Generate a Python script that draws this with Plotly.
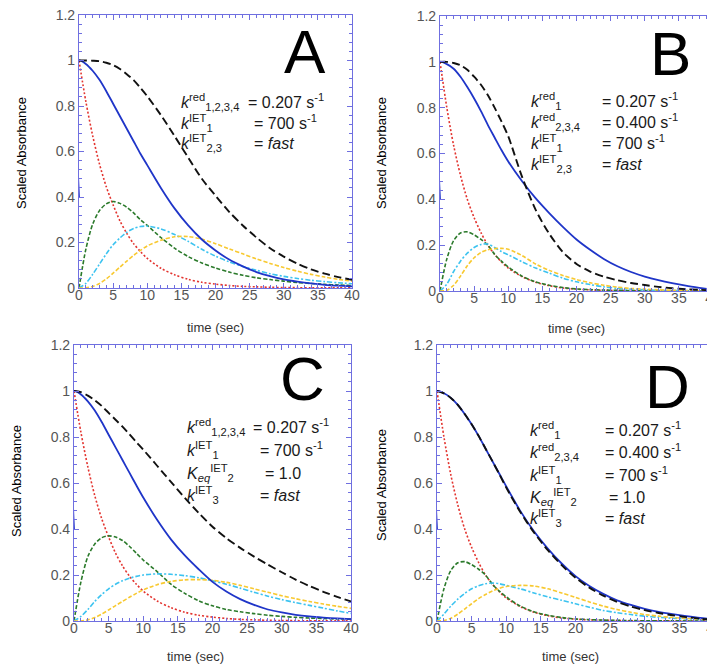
import plotly.graph_objects as go

# sample times (s), shared by every curve
T = [0, 1, 2, 3, 4, 5, 6, 7, 8, 9, 10, 12, 14, 16, 18, 20, 22, 24, 26, 28, 30, 32, 34, 36, 38, 40]
BLUE_T = [0] + T  # blue trace starts with the fast jump at t=0

# ---- panel A
A_RED = [1.0, 0.82, 0.67, 0.545, 0.445, 0.365, 0.295, 0.24, 0.195, 0.16, 0.13, 0.087, 0.058, 0.038, 0.025, 0.017, 0.011, 0.007, 0.005, 0.003, 0.002, 0.0015, 0.001, 0.0007, 0.0005, 0.0003]
A_GREEN = [0, 0.17, 0.28, 0.34, 0.37, 0.38, 0.372, 0.355, 0.33, 0.3, 0.275, 0.222, 0.175, 0.138, 0.11, 0.088, 0.07, 0.056, 0.045, 0.037, 0.03, 0.024, 0.02, 0.016, 0.013, 0.011]
A_CYAN = [0, 0.02, 0.06, 0.105, 0.15, 0.19, 0.22, 0.245, 0.262, 0.27, 0.272, 0.26, 0.235, 0.205, 0.17, 0.14, 0.115, 0.095, 0.078, 0.063, 0.051, 0.042, 0.034, 0.028, 0.023, 0.019]
A_YELLOW = [0, 0.001, 0.007, 0.02, 0.04, 0.065, 0.092, 0.118, 0.143, 0.165, 0.185, 0.21, 0.225, 0.226, 0.215, 0.195, 0.172, 0.15, 0.128, 0.108, 0.09, 0.074, 0.06, 0.048, 0.038, 0.03]
A_BLACK = [1.0, 1.0, 0.999, 0.997, 0.99, 0.98, 0.963, 0.94, 0.914, 0.88, 0.843, 0.76, 0.668, 0.573, 0.48, 0.406, 0.335, 0.275, 0.222, 0.175, 0.138, 0.107, 0.082, 0.063, 0.048, 0.036]
A_BLUE = [0.4, 1.0, 0.985, 0.955, 0.915, 0.865, 0.81, 0.755, 0.70, 0.645, 0.59, 0.54, 0.44, 0.35, 0.275, 0.213, 0.165, 0.125, 0.095, 0.07, 0.052, 0.038, 0.028, 0.02, 0.014, 0.01, 0.007]

# ---- panel B
B_RED = [1.0, 0.8, 0.635, 0.505, 0.4, 0.32, 0.255, 0.2, 0.16, 0.127, 0.1, 0.063, 0.038, 0.023, 0.013, 0.008, 0.005, 0.003, 0.002, 0.001, 0.0007, 0.0005, 0.0003, 0.0002, 0.0001, 0.0001]
B_GREEN = [0, 0.14, 0.22, 0.253, 0.258, 0.245, 0.225, 0.2, 0.16, 0.13, 0.105, 0.065, 0.04, 0.025, 0.015, 0.009, 0.006, 0.004, 0.003, 0.002, 0.001, 0.001, 0.0005, 0.0003, 0.0002, 0.0001]
B_CYAN = [0, 0.03, 0.085, 0.13, 0.165, 0.19, 0.203, 0.205, 0.19, 0.172, 0.158, 0.128, 0.1, 0.078, 0.056, 0.04, 0.028, 0.018, 0.012, 0.008, 0.005, 0.003, 0.002, 0.0015, 0.001, 0.0005]
B_YELLOW = [0, 0.003, 0.025, 0.065, 0.11, 0.145, 0.168, 0.18, 0.185, 0.186, 0.182, 0.155, 0.118, 0.09, 0.068, 0.05, 0.036, 0.025, 0.017, 0.011, 0.008, 0.005, 0.003, 0.002, 0.001, 0.001]
B_BLACK = [1.0, 1.0, 0.995, 0.985, 0.965, 0.935, 0.9, 0.855, 0.8, 0.74, 0.675, 0.5, 0.355, 0.25, 0.17, 0.118, 0.085, 0.063, 0.047, 0.035, 0.026, 0.018, 0.012, 0.008, 0.005, 0.003]
B_BLUE = [0.4, 1.0, 0.99, 0.97, 0.935, 0.89, 0.84, 0.785, 0.725, 0.67, 0.615, 0.565, 0.48, 0.405, 0.34, 0.28, 0.225, 0.18, 0.14, 0.108, 0.083, 0.063, 0.047, 0.034, 0.023, 0.014, 0.006]

# ---- panel C
C_RED = [1.0, 0.82, 0.67, 0.545, 0.445, 0.365, 0.295, 0.24, 0.195, 0.16, 0.13, 0.087, 0.058, 0.038, 0.025, 0.017, 0.011, 0.007, 0.005, 0.003, 0.002, 0.0015, 0.001, 0.0007, 0.0005, 0.0003]
C_GREEN = [0, 0.17, 0.28, 0.335, 0.362, 0.37, 0.365, 0.35, 0.325, 0.295, 0.265, 0.215, 0.16, 0.12, 0.088, 0.066, 0.05, 0.04, 0.032, 0.025, 0.02, 0.016, 0.013, 0.011, 0.009, 0.008]
C_CYAN = [0, 0.02, 0.05, 0.085, 0.115, 0.14, 0.16, 0.175, 0.186, 0.194, 0.2, 0.205, 0.203, 0.197, 0.188, 0.175, 0.16, 0.143, 0.125, 0.108, 0.093, 0.08, 0.068, 0.056, 0.044, 0.033]
C_YELLOW = [0, 0, 0.005, 0.015, 0.03, 0.048, 0.067, 0.085, 0.103, 0.12, 0.135, 0.158, 0.172, 0.179, 0.18, 0.177, 0.168, 0.155, 0.14, 0.125, 0.11, 0.097, 0.085, 0.074, 0.064, 0.055]
C_BLACK = [1.0, 0.995, 0.98, 0.96, 0.935, 0.905, 0.875, 0.845, 0.812, 0.778, 0.745, 0.675, 0.605, 0.535, 0.47, 0.41, 0.36, 0.318, 0.28, 0.245, 0.212, 0.18, 0.152, 0.127, 0.105, 0.085]
C_BLUE = [0.4, 1.0, 0.985, 0.955, 0.915, 0.865, 0.81, 0.755, 0.70, 0.645, 0.59, 0.537, 0.44, 0.355, 0.285, 0.225, 0.17, 0.128, 0.095, 0.07, 0.05, 0.037, 0.027, 0.02, 0.015, 0.011, 0.008]

# ---- panel D
D_RED = [1.0, 0.8, 0.635, 0.505, 0.4, 0.32, 0.255, 0.2, 0.16, 0.127, 0.1, 0.063, 0.038, 0.023, 0.013, 0.008, 0.005, 0.003, 0.002, 0.001, 0.0007, 0.0005, 0.0003, 0.0002, 0.0001, 0.0001]
D_GREEN = [0, 0.14, 0.22, 0.253, 0.258, 0.245, 0.225, 0.2, 0.16, 0.13, 0.105, 0.065, 0.04, 0.025, 0.015, 0.009, 0.006, 0.004, 0.003, 0.002, 0.001, 0.001, 0.0005, 0.0003, 0.0002, 0.0001]
D_CYAN = [0, 0.03, 0.065, 0.095, 0.12, 0.14, 0.153, 0.162, 0.165, 0.162, 0.155, 0.14, 0.122, 0.105, 0.09, 0.075, 0.06, 0.046, 0.036, 0.028, 0.021, 0.016, 0.012, 0.009, 0.007, 0.005]
D_YELLOW = [0, 0.002, 0.012, 0.03, 0.052, 0.075, 0.097, 0.115, 0.13, 0.142, 0.15, 0.155, 0.152, 0.14, 0.122, 0.103, 0.083, 0.065, 0.05, 0.038, 0.028, 0.021, 0.015, 0.011, 0.008, 0.006]
D_BLACK = [1.0, 0.99, 0.97, 0.94, 0.9, 0.855, 0.805, 0.75, 0.695, 0.638, 0.58, 0.475, 0.385, 0.308, 0.243, 0.188, 0.145, 0.11, 0.083, 0.063, 0.047, 0.035, 0.025, 0.017, 0.01, 0.005]
D_BLUE = [0.4, 1.0, 0.99, 0.97, 0.94, 0.9, 0.855, 0.805, 0.75, 0.695, 0.64, 0.585, 0.48, 0.39, 0.315, 0.25, 0.195, 0.152, 0.118, 0.09, 0.07, 0.053, 0.04, 0.03, 0.021, 0.013, 0.007]

PANELS = ["A", "B", "C", "D"]
X_TICKS = [0, 5, 10, 15, 20, 25, 30, 35, 40]
Y_TICKS = [0, 0.2, 0.4, 0.6, 0.8, 1.0, 1.2]

# parameter lines: (left text, right text, y, x_left, x_eq)
PAD = "<sup>&nbsp;</sup><sub>&nbsp;</sub>"
A_TEXT = [
    ("<i>k</i><sup>red</sup><sub>1,2,3,4</sub>", "= 0.207 s<sup>-1</sup><sub>&nbsp;</sub>", 0.818, 14.7, 24.4),
    ("<i>k</i><sup>IET</sup><sub>1</sub>", "= 700 s<sup>-1</sup><sub>&nbsp;</sub>", 0.727, 14.7, 25.3),
    ("<i>k</i><sup>IET</sup><sub>2,3</sub>", "= <i>fast</i>" + PAD, 0.637, 14.7, 25.3),
]
B_TEXT = [
    ("<i>k</i><sup>red</sup><sub>1</sub>", "= 0.207 s<sup>-1</sup><sub>&nbsp;</sub>", 0.83, 13.0, 23.5),
    ("<i>k</i><sup>red</sup><sub>2,3,4</sub>", "= 0.400 s<sup>-1</sup><sub>&nbsp;</sub>", 0.738, 13.0, 23.5),
    ("<i>k</i><sup>IET</sup><sub>1</sub>", "= 700 s<sup>-1</sup><sub>&nbsp;</sub>", 0.646, 13.0, 23.5),
    ("<i>k</i><sup>IET</sup><sub>2,3</sub>", "= <i>fast</i>" + PAD, 0.555, 13.0, 23.5),
]
C_TEXT = [
    ("<i>k</i><sup>red</sup><sub>1,2,3,4</sub>", "= 0.207 s<sup>-1</sup><sub>&nbsp;</sub>", 0.842, 16.0, 25.6),
    ("<i>k</i><sup>IET</sup><sub>1</sub>", "= 700 s<sup>-1</sup><sub>&nbsp;</sub>", 0.742, 16.0, 26.6),
    ("<i>K</i><sub><i>eq</i></sub><sup>IET</sup><sub>2</sub>", "= 1.0" + PAD, 0.642, 16.0, 27.3),
    ("<i>k</i><sup>IET</sup><sub>3</sub>", "= <i>fast</i>" + PAD, 0.546, 16.0, 26.6),
]
D_TEXT = [
    ("<i>k</i><sup>red</sup><sub>1</sub>", "= 0.207 s<sup>-1</sup><sub>&nbsp;</sub>", 0.83, 13.2, 23.9),
    ("<i>k</i><sup>red</sup><sub>2,3,4</sub>", "= 0.400 s<sup>-1</sup><sub>&nbsp;</sub>", 0.735, 13.2, 23.9),
    ("<i>k</i><sup>IET</sup><sub>1</sub>", "= 700 s<sup>-1</sup><sub>&nbsp;</sub>", 0.636, 13.2, 23.9),
    ("<i>K</i><sub><i>eq</i></sub><sup>IET</sup><sub>2</sub>", "= 1.0" + PAD, 0.54, 13.2, 24.6),
    ("<i>k</i><sup>IET</sup><sub>3</sub>", "= <i>fast</i>" + PAD, 0.449, 13.2, 23.9),
]

W, H = 715, 665
# plot-area boxes in pixels: left, right, top, bottom
BOXES = {"A": (71, 344, 7, 280), "B": (432, 705, 8, 283), "C": (66, 343, 337, 613), "D": (429, 706, 337, 613)}
LETTER_POS = {"A": (33.1, 1.04), "B": (33.7, 1.036), "C": (32.95, 1.055), "D": (33.3, 1.02)}
YTITLE_POS = {"A": (13, 145), "B": (373, 145), "C": (8, 473), "D": (373, 477)}
XTITLE_POS = {"A": (207, 319), "B": (568, 320), "C": (187, 648), "D": (562, 648)}

DATA = {
    "A": (A_RED, A_GREEN, A_CYAN, A_YELLOW, A_BLACK, A_BLUE, A_TEXT),
    "B": (B_RED, B_GREEN, B_CYAN, B_YELLOW, B_BLACK, B_BLUE, B_TEXT),
    "C": (C_RED, C_GREEN, C_CYAN, C_YELLOW, C_BLACK, C_BLUE, C_TEXT),
    "D": (D_RED, D_GREEN, D_CYAN, D_YELLOW, D_BLACK, D_BLUE, D_TEXT),
}

FONT = "Liberation Sans, Arial, Helvetica, sans-serif"
FRAME = "#6f6fe0"

fig = go.Figure()
layout = {}
annotations = []
for i, p in enumerate(PANELS):
    n = "" if i == 0 else str(i + 1)
    xa, ya = "x" + n, "y" + n
    left, right, top, bottom = BOXES[p]
    red, green, cyan, yellow, black, blue, text = DATA[p]
    styles = [
        (T, red, "#e3342f", "2px,2px", 1.6),
        (T, green, "#2b7a2b", "4px,2px", 1.6),
        (T, cyan, "#3cc3f0", "5px,2px,2px,2px", 1.6),
        (T, yellow, "#f8c930", "4px,2px", 1.6),
        (BLUE_T, blue, "#1f35c8", "solid", 1.8),
        (T, black, "#111111", "8px,4px", 1.9),
    ]
    for tx, ty, color, dash, width in styles:
        fig.add_trace(go.Scatter(
            x=tx, y=ty, mode="lines", xaxis=xa, yaxis=ya, showlegend=False,
            line={"color": color, "dash": dash, "width": width, "shape": "spline", "smoothing": 0.8},
            hoverinfo="skip",
        ))
    axis_common = dict(
        showline=True, linecolor=FRAME, linewidth=1.2, mirror="ticks",
        ticks="inside", tickcolor=FRAME, ticklen=5, tickwidth=1,
        showgrid=False, zeroline=False, automargin=False, ticklabeloverflow="allow",
        tickfont={"family": FONT, "size": 14, "color": "#555555"},
    )
    layout["xaxis" + n] = dict(
        axis_common, domain=[left / W, right / W], anchor=ya, range=[0, 40],
        tickvals=X_TICKS, ticklabelstandoff=-6,
        minor={"dtick": 1, "ticks": "inside", "ticklen": 3, "tickcolor": FRAME},
    )
    layout["yaxis" + n] = dict(
        axis_common, domain=[1 - bottom / H, 1 - top / H], anchor=xa, range=[0, 1.2],
        tickvals=Y_TICKS,
        minor={"dtick": 0.04, "ticks": "inside", "ticklen": 3, "tickcolor": FRAME},
    )
    lx, ly = LETTER_POS[p]
    annotations.append(dict(x=lx, y=ly, xref=xa, yref=ya, text=p, showarrow=False,
                            font={"family": FONT, "size": 62, "color": "black"}))
    for ltxt, rtxt, yy, xl, xe in text:
        annotations.append(dict(x=xl, y=yy, xref=xa, yref=ya, text=ltxt, showarrow=False,
                                xanchor="left", yanchor="middle",
                                font={"family": FONT, "size": 16, "color": "#1a1a1a"}))
        annotations.append(dict(x=xe, y=yy, xref=xa, yref=ya, text=rtxt, showarrow=False,
                                xanchor="left", yanchor="middle",
                                font={"family": FONT, "size": 16, "color": "#1a1a1a"}))
    tx_, ty_ = YTITLE_POS[p]
    annotations.append(dict(x=tx_ / W, y=1 - ty_ / H, xref="paper", yref="paper", text="Scaled Absorbance",
                            textangle=-90, showarrow=False, xanchor="center", yanchor="middle",
                            font={"family": FONT, "size": 13, "color": "black"}))
    tx_, ty_ = XTITLE_POS[p]
    annotations.append(dict(x=tx_ / W, y=1 - ty_ / H, xref="paper", yref="paper", text="time (sec)",
                            showarrow=False, xanchor="center", yanchor="middle",
                            font={"family": FONT, "size": 13, "color": "#333"}))

fig.update_layout(
    width=W, height=H, margin={"l": 0, "r": 0, "t": 0, "b": 0, "autoexpand": False},
    paper_bgcolor="white", plot_bgcolor="white",
    annotations=annotations, **layout,
)
fig.write_html("out.html")
